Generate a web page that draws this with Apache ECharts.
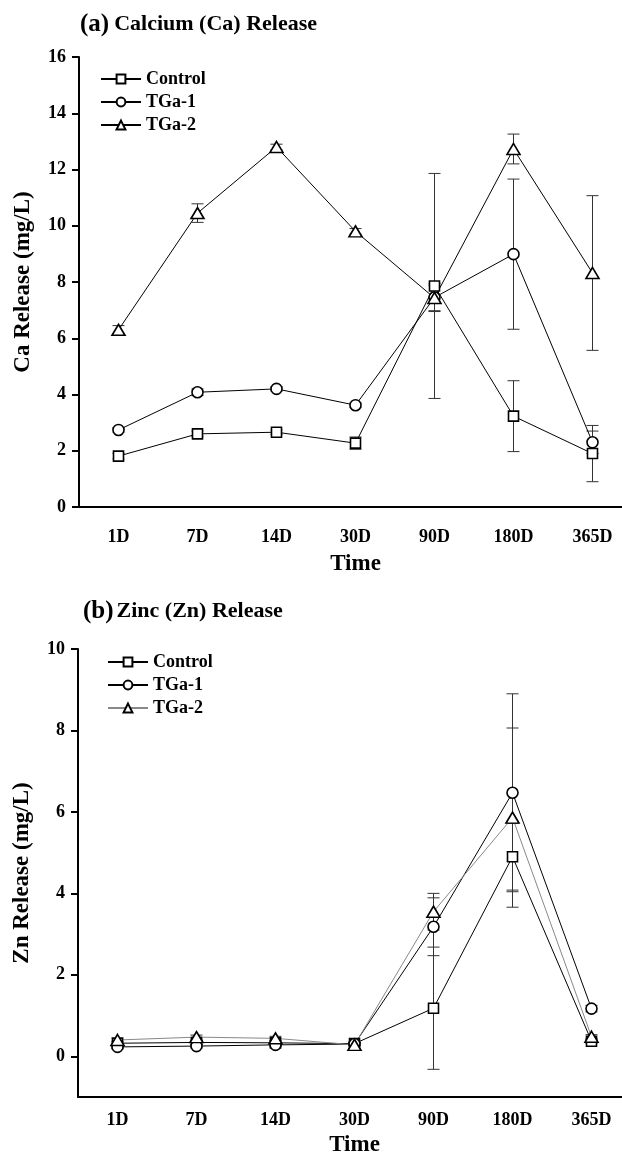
<!DOCTYPE html>
<html>
<head>
<meta charset="utf-8">
<script src="https://cdn.jsdelivr.net/npm/echarts@6/dist/echarts.min.js"></script>
<style>html,body{margin:0;padding:0;background:#fff}#main{width:622px;height:1156px}</style>
</head>
<body>
<div id="main"></div>
<script>
var days = ['1D', '7D', '14D', '30D', '90D', '180D', '365D'];

// (a) calcium release, mg/L
var caControl = [1.81, 2.6, 2.66, 2.27, 7.86, 3.23, 1.9];
var caControlErr = [0.1, 0.1, 0.08, 0.22, 4.0, 1.26, 1.0];
var caTGa1 = [2.74, 4.08, 4.2, 3.62, 7.45, 8.99, 2.3];
var caTGa1Err = [0.08, 0.12, 0.08, 0.08, 0.5, 2.67, 0.4];
var caTGa2 = [6.3, 10.45, 12.8, 9.8, 7.43, 12.73, 8.32];
var caTGa2Err = [0.15, 0.33, 0.1, 0.1, 0.45, 0.53, 2.75];

// (b) zinc release, mg/L
var znControl = [0.32, 0.34, 0.33, 0.31, 1.18, 4.9, 0.37];
var znControlErr = [0.05, 0.05, 0.05, 0.03, 1.5, 0.82, 0.05];
var znTGa1 = [0.23, 0.25, 0.28, 0.3, 3.18, 6.47, 1.17];
var znTGa1Err = [0.05, 0.05, 0.05, 0.03, 0.71, 2.43, 0.08];
var znTGa2 = [0.4, 0.47, 0.44, 0.28, 3.55, 5.86, 0.48];
var znTGa2Err = [0.05, 0.05, 0.05, 0.03, 0.45, 2.2, 0.05];

var znTicks = [0, 2, 4, 6, 8, 10];

var serif = 'Liberation Serif';
var myChart = echarts.init(document.getElementById('main'));

function errData(vals, errs) {
    return vals.map(function (v, i) { return [i, v - errs[i], v + errs[i]]; });
}

function errRender(params, api) {
    var x = api.value(0);
    var lo = api.coord([x, api.value(1)]);
    var hi = api.coord([x, api.value(2)]);
    var w = 6;
    var st = { stroke: '#333', lineWidth: 1 };
    return {
        type: 'group',
        children: [
            { type: 'line', shape: { x1: hi[0], y1: hi[1], x2: lo[0], y2: lo[1] }, style: st },
            { type: 'line', shape: { x1: hi[0] - w, y1: hi[1], x2: hi[0] + w, y2: hi[1] }, style: st },
            { type: 'line', shape: { x1: lo[0] - w, y1: lo[1], x2: lo[0] + w, y2: lo[1] }, style: st }
        ]
    };
}

function lineSeries(name, data, idx, symbol, size, color) {
    return {
        name: name,
        type: 'line',
        xAxisIndex: idx,
        yAxisIndex: idx,
        data: data,
        symbol: symbol,
        symbolSize: size,
        z: 3,
        lineStyle: { color: color || '#000', width: 1 },
        itemStyle: { color: '#fff', borderColor: '#000', borderWidth: 1.6 }
    };
}

function errSeries(vals, errs, idx) {
    return {
        type: 'custom',
        xAxisIndex: idx,
        yAxisIndex: idx,
        renderItem: errRender,
        data: errData(vals, errs),
        z: 2,
        silent: true
    };
}

function xAxisOf(idx, labelMargin, nameGap) {
    return {
        type: 'category',
        gridIndex: idx,
        data: days,
        boundaryGap: true,
        name: 'Time',
        nameLocation: 'middle',
        nameGap: nameGap,
        nameTextStyle: { fontFamily: serif, fontWeight: 'bold', fontSize: 23, color: '#000' },
        axisLine: { onZero: false, lineStyle: { color: '#000', width: 2 } },
        axisTick: { alignWithLabel: true, length: 8, lineStyle: { color: '#000', width: 2 } },
        axisLabel: { fontFamily: serif, fontWeight: 'bold', fontSize: 18, color: '#000', margin: labelMargin },
        splitLine: { show: false }
    };
}

var axisNameStyle = { fontFamily: serif, fontWeight: 'bold', fontSize: 23, color: '#000' };
var tickLabelStyle = { fontFamily: serif, fontWeight: 'bold', fontSize: 18, color: '#000', margin: 13 };

var legendText = { fontFamily: serif, fontWeight: 'bold', fontSize: 18, color: '#000' };

var option = {
    animation: false,
    backgroundColor: '#fff',
    title: [
        {
            text: '{a|(a)} {b|Calcium (Ca) Release}',
            left: 80,
            top: 7,
            padding: [5, 0],
            textStyle: {
                rich: {
                    a: { fontFamily: serif, fontWeight: 'bold', fontSize: 25, color: '#000' },
                    b: { fontFamily: serif, fontWeight: 'bold', fontSize: 22, color: '#000' }
                }
            }
        },
        {
            text: '{a|(b)}{b|Zinc (Zn) Release}',
            left: 83,
            top: 594,
            padding: [5, 0],
            textStyle: {
                rich: {
                    a: { fontFamily: serif, fontWeight: 'bold', fontSize: 25, color: '#000' },
                    b: { fontFamily: serif, fontWeight: 'bold', fontSize: 22, color: '#000', padding: [0, 0, 0, 3] }
                }
            }
        }
    ],
    legend: [
        {
            orient: 'vertical',
            left: 100,
            top: 70,
            padding: 0,
            itemWidth: 40,
            itemHeight: 11,
            itemGap: 5,
            textStyle: legendText,
            data: ['Control', 'TGa-1', 'TGa-2']
        },
        {
            orient: 'vertical',
            left: 107,
            top: 653,
            padding: 0,
            itemWidth: 40,
            itemHeight: 11,
            itemGap: 5,
            textStyle: legendText,
            data: ['Control', 'TGa-1', { name: 'TGa-2', lineStyle: { color: '#888' } }]
        }
    ],
    grid: [
        { left: 79, top: 57, width: 553, height: 450, outerBoundsMode: 'none' },
        { left: 78, top: 649, width: 553, height: 448, outerBoundsMode: 'none' }
    ],
    xAxis: [xAxisOf(0, 21, 46), xAxisOf(1, 14, 37)],
    yAxis: [
        {
            type: 'value',
            gridIndex: 0,
            min: 0,
            max: 16,
            interval: 2,
            name: 'Ca Release (mg/L)',
            nameLocation: 'middle',
            nameGap: 44,
            nameTextStyle: axisNameStyle,
            axisLine: { show: true, lineStyle: { color: '#000', width: 2 } },
            axisTick: { show: true, length: 7, lineStyle: { color: '#000', width: 2 } },
            axisLabel: tickLabelStyle,
            splitLine: { show: false }
        },
        {
            type: 'value',
            gridIndex: 1,
            min: -1,
            max: 10,
            name: 'Zn Release (mg/L)',
            nameLocation: 'middle',
            nameGap: 44,
            nameTextStyle: axisNameStyle,
            axisLine: { show: true, lineStyle: { color: '#000', width: 2 } },
            axisTick: { show: true, length: 7, customValues: znTicks, lineStyle: { color: '#000', width: 2 } },
            axisLabel: Object.assign({ customValues: znTicks }, tickLabelStyle),
            splitLine: { show: false }
        }
    ],
    series: [
        errSeries(caControl, caControlErr, 0),
        errSeries(caTGa1, caTGa1Err, 0),
        errSeries(caTGa2, caTGa2Err, 0),
        lineSeries('Control', caControl, 0, 'rect', 10),
        lineSeries('TGa-1', caTGa1, 0, 'circle', 11),
        lineSeries('TGa-2', caTGa2, 0, 'triangle', [13, 11]),
        errSeries(znControl, znControlErr, 1),
        errSeries(znTGa1, znTGa1Err, 1),
        errSeries(znTGa2, znTGa2Err, 1),
        lineSeries('Control', znControl, 1, 'rect', 10),
        lineSeries('TGa-1', znTGa1, 1, 'circle', 11),
        lineSeries('TGa-2', znTGa2, 1, 'triangle', [13, 11], '#888')
    ]
};
myChart.setOption(option);
</script>
</body>
</html>
